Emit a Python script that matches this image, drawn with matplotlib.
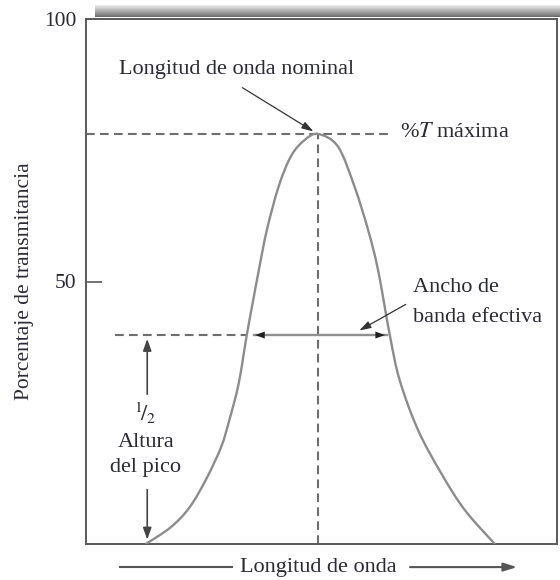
import matplotlib
matplotlib.use("Agg")
import matplotlib.pyplot as plt
from matplotlib.path import Path
from matplotlib.patches import PathPatch
import numpy as np

plt.rcParams['font.family'] = ['Liberation Serif', 'DejaVu Serif']
plt.rcParams['mathtext.fontset'] = 'stix'

# ---- data ----
wavelength = [12.7, 18.0, 22.0, 25.6, 28.7, 30.4, 32.4, 34.1, 35.3, 36.7, 38.4, 40.9, 43.6,
              46.5, 49.3,
              53.5, 57.0, 59.9, 62.0, 64.5, 66.6, 70.5, 75.4, 80.4, 86.8]
transmittance = [0.0, 3.2, 7.0, 12.5, 18.5, 23.5, 30.5, 39.6, 45.5, 52.2, 59.8, 68.1, 74.0,
                 77.0, 78.1,
                 75.7, 68.1, 59.8, 52.2, 39.8, 31.2, 21.7, 13.5, 6.5, 0.0]
peak_x = 49.3
peak_y = 78.1
half_y = 39.8
half_left = 34.1
half_right = 64.5
ytick_vals = [50, 100]
ytick_labels = ['50', '100']

TXT = '#2a2a35'
GRAY = '#8c8c8c'
DASH = '#6e6e6e'
FS = 16

fig = plt.figure(figsize=(5.6, 5.8), dpi=100)
ax = fig.add_axes([86/560, 36/580, 471/560, 525/580])
ax.set_xlim(0, 100)
ax.set_ylim(0, 100)

# top shaded bar
bar = fig.add_axes([95/560, (580-17)/580, 465/560, 12/580])
grad = np.linspace(0.93, 0.42, 50).reshape(-1, 1)
bar.imshow(grad, aspect='auto', cmap='gray', vmin=0, vmax=1, extent=[0, 1, 0, 1])
bar.axis('off')

for s in ax.spines.values():
    s.set_color('#5a5a5a')
    s.set_linewidth(1.4)

ax.set_xticks([])
ax.set_yticks(ytick_vals)
ax.set_yticklabels(ytick_labels, fontsize=15.5, color=TXT)
ax.tick_params(axis='y', direction='in', length=11.5, width=1.2, color='#5a5a5a', pad=7)
ax.set_ylabel('Porcentaje de transmitancia', fontsize=15.5, color=TXT, labelpad=7)

# smooth curve through the read points (Catmull-Rom drawn as cubic Bezier path)
pts = np.column_stack([wavelength, transmittance])
verts = [tuple(pts[0])]
codes = [Path.MOVETO]
n = len(pts)
for i in range(n - 1):
    p0 = pts[i - 1] if i > 0 else pts[i]
    p1 = pts[i]
    p2 = pts[i + 1]
    p3 = pts[i + 2] if i + 2 < n else pts[i + 1]
    c1 = p1 + (p2 - p0) / 6.0
    c2 = p2 - (p3 - p1) / 6.0
    verts += [tuple(c1), tuple(c2), tuple(p2)]
    codes += [Path.CURVE4] * 3
ax.add_patch(PathPatch(Path(verts, codes), facecolor='none', edgecolor=GRAY, lw=1.7, zorder=3))

dash_style = (0, (4.2, 2.5))
ax.plot([0, half_right], [peak_y, peak_y], color=DASH, lw=1.5, linestyle=dash_style)
ax.plot([peak_x, peak_x], [0, peak_y], color=DASH, lw=1.5, linestyle=dash_style)
ax.plot([6.2, half_left], [half_y, half_y], color=DASH, lw=1.5, linestyle=dash_style)

# bandwidth double arrow
AH = '-|>,head_length=0.7,head_width=0.25'
ax.plot([half_left + 1.5, half_right - 0.6], [half_y, half_y], color='#909090', lw=1.7, zorder=2)
ax.annotate('', xy=(35.3, half_y), xytext=(40, half_y),
            arrowprops=dict(arrowstyle=AH, color='#222', lw=0.01))
ax.annotate('', xy=(64.1, half_y), xytext=(59, half_y),
            arrowprops=dict(arrowstyle=AH, color='#222', lw=0.01))

# half-height vertical arrows
ax.annotate('', xy=(13.0, 39.6), xytext=(13.0, 28.0),
            arrowprops=dict(arrowstyle=AH, color='#444', lw=1.2))
ax.annotate('', xy=(13.0, 0.3), xytext=(13.0, 10.9),
            arrowprops=dict(arrowstyle=AH, color='#444', lw=1.2))
ax.text(12.5, 25.0, r'$^{1}\!/_{2}$', fontsize=FS, color=TXT, ha='center', va='center')
ax.text(12.8, 19.4, 'Altura', fontsize=FS, color=TXT, ha='center', va='center')
ax.text(12.7, 14.5, 'del pico', fontsize=FS, color=TXT, ha='center', va='center')

# labels
ax.text(32.0, 90.3, 'Longitud de onda nominal', fontsize=FS, color=TXT, ha='center', va='center')
ax.annotate('', xy=(48.8, 78.3), xytext=(32.7, 87.2),
            arrowprops=dict(arrowstyle='-|>,head_length=0.7,head_width=0.22', color='#333', lw=0.9))
ax.text(66.7, 78.3, r'%$T$ máxima', fontsize=FS, color=TXT, ha='left', va='center')
ax.text(69.4, 48.8, 'Ancho de', fontsize=FS, color=TXT, ha='left', va='center')
ax.text(69.4, 43.2, 'banda efectiva', fontsize=FS, color=TXT, ha='left', va='center')
ax.annotate('', xy=(57.5, 40.4), xytext=(68.4, 45.9),
            arrowprops=dict(arrowstyle='-|>,head_length=0.7,head_width=0.22', color='#333', lw=0.9))

# x-axis label with arrow
ax.text(49.3, -4.4, 'Longitud de onda', fontsize=FS, color=TXT, ha='center', va='center', clip_on=False)
ax.plot([7.2, 31.0], [-4.4, -4.4], color='#555', lw=1.5, clip_on=False)
ax.annotate('', xy=(92.1, -4.4), xytext=(68.2, -4.4), annotation_clip=False,
            arrowprops=dict(arrowstyle='-|>,head_length=0.8,head_width=0.25', color='#555', lw=1.5))

fig.savefig('out.png', dpi=100)
